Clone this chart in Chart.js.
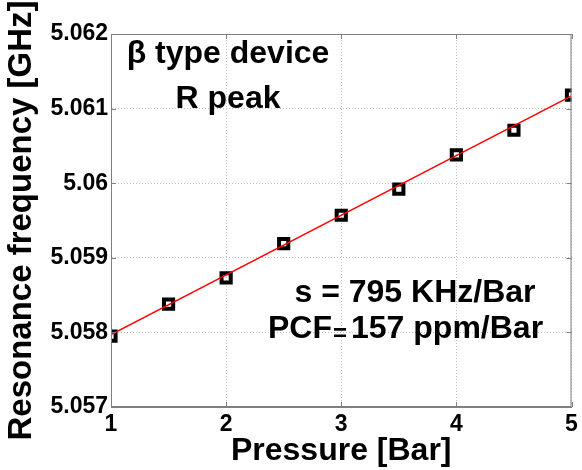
<!DOCTYPE html>
<html>
<head>
<meta charset="utf-8">
<script src="https://cdn.jsdelivr.net/npm/chart.js@4"></script>
<style>
  html, body { margin: 0; padding: 0; background: #fff; }
  #wrap { width: 582px; height: 470px; }
</style>
</head>
<body>
<div id="wrap"><canvas id="freqChart" width="582" height="470"></canvas></div>
<script>
// measured points (Pressure [Bar] -> resonance frequency [GHz])
const pressure = [1, 1.5, 2, 2.5, 3, 3.5, 4, 4.5, 5];
const freq = [5.05795, 5.05838, 5.05873, 5.05919, 5.05957, 5.05992, 5.06038, 5.06071, 5.06118];

// linear fit endpoints
const fitX = [1, 5];
const fitY = [5.05797, 5.06117];

// ticks
const xTicks = [1, 2, 3, 4, 5];
const xTickLabels = ['1', '2', '3', '4', '5'];
const yTicks = [5.057, 5.058, 5.059, 5.06, 5.061, 5.062];
const yTickLabels = ['5.057', '5.058', '5.059', '5.06', '5.061', '5.062'];

const FONT = "'Liberation Sans', Arial, sans-serif";

// MATLAB-like box with inward ticks, plus the text notes
const boxAndNotes = {
    id: 'boxAndNotes',
    afterDatasetsDraw(chart) {
        const ctx = chart.ctx;
        const a = chart.chartArea;
        const xs = chart.scales.x, ys = chart.scales.y;
        ctx.save();
        ctx.strokeStyle = '#7f7f7f';
        ctx.lineWidth = 1;
        ctx.strokeRect(a.left + 0.5, a.top + 0.5, a.right - a.left - 1, a.bottom - a.top - 1);
        ctx.beginPath();
        xTicks.forEach(v => {
            const px = Math.round(xs.getPixelForValue(v)) + 0.5;
            ctx.moveTo(px, a.bottom); ctx.lineTo(px, a.bottom - 5);
            ctx.moveTo(px, a.top); ctx.lineTo(px, a.top + 5);
        });
        yTicks.forEach(v => {
            const py = Math.round(ys.getPixelForValue(v)) + 0.5;
            ctx.moveTo(a.left, py); ctx.lineTo(a.left + 5, py);
            ctx.moveTo(a.right, py); ctx.lineTo(a.right - 5, py);
        });
        ctx.stroke();

        ctx.fillStyle = '#000';
        ctx.textBaseline = 'alphabetic';
        ctx.font = 'bold 32px ' + FONT;
        ctx.textAlign = 'center';
        ctx.fillText('\u03b2 type device', 228, 63);
        ctx.fillText('R peak', 228, 108);

        ctx.font = 'bold 32px ' + FONT;
        ctx.fillText('s = 795 KHz/Bar', 415, 302);

        ctx.textAlign = 'left';
        let x = 268;
        ctx.fillText('PCF', x, 338);
        x += ctx.measureText('PCF').width + 1;
        ctx.font = 'bold 24px ' + FONT;
        ctx.fillText('=', x, 341);
        x += ctx.measureText('=').width + 4;
        ctx.font = 'bold 32px ' + FONT;
        ctx.fillText('157 ppm/Bar', x, 338);
        ctx.restore();
    }
};

const canvas = document.getElementById('freqChart');

new Chart(canvas, {
    type: 'scatter',
    data: {
        datasets: [
            {
                type: 'line',
                label: 'fit',
                data: fitX.map((x, i) => ({ x: x, y: fitY[i] })),
                borderColor: '#ff0000',
                borderWidth: 1.5,
                pointRadius: 0,
                fill: false,
                order: 0
            },
            {
                label: 'measured',
                data: pressure.map((x, i) => ({ x: x, y: freq[i] })),
                pointStyle: 'rect',
                pointRadius: 6.5,
                borderWidth: 4,
                borderColor: '#000',
                backgroundColor: 'rgba(0,0,0,0)',
                order: 1
            }
        ]
    },
    options: {
        responsive: false,
        animation: false,
        layout: { padding: { left: 0, top: 34, right: 9, bottom: 0 } },
        plugins: {
            legend: { display: false },
            tooltip: { enabled: false }
        },
        scales: {
            x: {
                type: 'linear',
                min: 1,
                max: 5,
                afterBuildTicks: s => { s.ticks = xTicks.map(v => ({ value: v })); },
                afterFit: s => { s.height = 63; },
                ticks: {
                    padding: 4,
                    color: '#000',
                    font: { family: FONT, size: 23, weight: 'bold' },
                    callback: (v, i) => xTickLabels[i]
                },
                grid: { color: '#c0c0c0', drawTicks: false },
                border: { color: '#7f7f7f', dash: [1, 2] },
                title: {
                    display: true,
                    text: 'Pressure [Bar]',
                    color: '#000',
                    font: { family: FONT, size: 32, weight: 'bold', lineHeight: 1 },
                    padding: { top: 0, bottom: 3 }
                }
            },
            y: {
                type: 'linear',
                min: 5.057,
                max: 5.062,
                afterBuildTicks: s => { s.ticks = yTicks.map(v => ({ value: v })); },
                afterFit: s => { s.width = 111; },
                ticks: {
                    padding: 3,
                    color: '#000',
                    font: { family: FONT, size: 23, weight: 'bold' },
                    callback: (v, i) => yTickLabels[i]
                },
                grid: { color: '#c0c0c0', drawTicks: false },
                border: { color: '#7f7f7f', dash: [1, 2] },
                title: {
                    display: true,
                    text: 'Resonance frequency [GHz]',
                    color: '#000',
                    font: { family: FONT, size: 33, weight: 'bold', lineHeight: 1 },
                    padding: { top: 5, bottom: 0 }
                }
            }
        }
    },
    plugins: [boxAndNotes]
});
</script>
</body>
</html>
